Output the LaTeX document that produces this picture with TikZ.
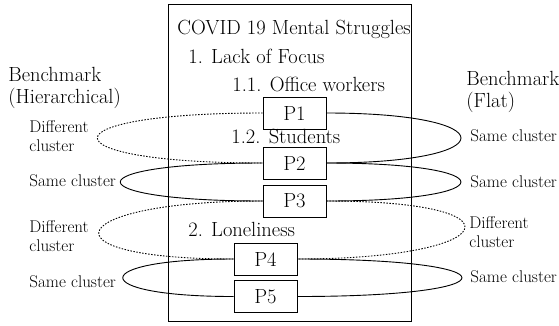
\documentclass[tikz,border=0pt]{standalone}
\usepackage{fontspec}
\usepackage{tikz}
\usetikzlibrary{shapes,arrows}
\tikzstyle{block} = [draw, rectangle, minimum height=32pt, minimum width=63pt, inner sep=0pt]
\tikzstyle{invis} = [draw=none, inner sep=0pt, anchor=base west]
\tikzstyle{main} = [font=\fontsize{20.5}{22}\selectfont]
\tikzstyle{side} = [font=\fontsize{17}{19}\selectfont]
\tikzstyle{diff} = [dash pattern=on 1.5pt off 1.5pt]

\begin{document}
\begin{tikzpicture}[x=1pt, y=-1pt, line width=0.9pt, auto]
\useasboundingbox (0,0) rectangle (559,325);

\node[draw, rectangle, minimum width=243pt, minimum height=317pt, inner sep=0pt] (frame) at (289.5,162.5) {};

\node[invis, main] (t0) at (177,34) {COVID 19 Mental Struggles};
\node[invis, main] (t1) at (188,63) {1. Lack of Focus};
\node[invis, main] (t11) at (232,91) {1.1. Office workers};
\node[invis, main] (t12) at (231,143) {1.2. Students};
\node[invis, main] (t2) at (188,236) {2. Loneliness};

\node[block, main] (p1) at (294.5,113) {P1};
\node[block, main] (p2) at (294.5,163) {P2};
\node[block, main] (p3) at (294.5,201) {P3};
\node[block, main] (p4) at (265.5,259) {P4};
\node[block, main] (p5) at (265.5,296.5) {P5};

\node[invis, main, align=left] (hier) at (8,103) {Benchmark\\(Hierarchical)};
\node[invis, side, align=left] (l1) at (29,151) {Different\\cluster};
\node[invis, side] (l2) at (29,186) {Same cluster};
\node[invis, side, align=left] (l3) at (29,251) {Different\\cluster};
\node[invis, side] (l4) at (29,287) {Same cluster};

\node[invis, main, align=left] (flat) at (466,107) {Benchmark\\(Flat)};
\node[invis, side] (r1) at (470,141) {Same cluster};
\node[invis, side] (r2) at (470,187) {Same cluster};
\node[invis, side, align=left] (r3) at (469,247) {Different\\cluster};
\node[invis, side] (r4) at (470,282) {Same cluster};

\path
(p1.west) edge [diff, out=180, in=180, looseness=11.3] (p2.west)
(p2.west) edge [out=180, in=180, looseness=12.8] (p3.west)
(p3.west) edge [diff, out=180, in=180, looseness=7.8] (p4.west)
(p4.west) edge [out=180, in=180, looseness=10.1] (p5.west);

\path
(p1.east) edge [out=0, in=0, looseness=9.2] (p2.east)
(p2.east) edge [out=0, in=0, looseness=12.1] (p3.east)
(p3.east) edge [diff, out=0, in=0, looseness=8] (p4.east)
(p4.east) edge [out=0, in=0, looseness=15] (p5.east);

\end{tikzpicture}
\end{document}
